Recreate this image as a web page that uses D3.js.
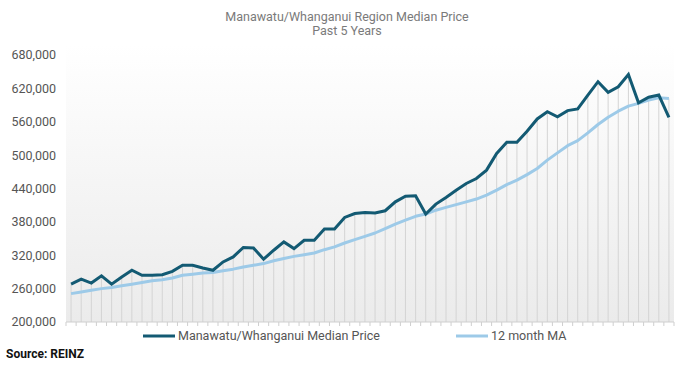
<!DOCTYPE html>
<html lang="en">
<head>
<meta charset="UTF-8">
<title>Manawatu/Whanganui Region Median Price</title>
<script src="https://d3js.org/d3.v7.min.js"></script>
<style>
    body { margin: 0; background: #fff; }
    text { font-family: 'Roboto', sans-serif; }
</style>
</head>
<body>
<div id="container"></div>
<script>
// monthly median price, last 5 years (60 months)
const medianPrice = [268000, 277000, 270000, 283000, 268000, 281000, 293000, 284000, 284000, 285000,
    291000, 302000, 302000, 297000, 293000, 308000, 317000, 334000, 333000, 313000,
    329000, 344000, 332000, 347000, 347000, 367000, 367000, 388000, 395000, 397000,
    396000, 400000, 416000, 426000, 427000, 394000, 412000, 424000, 437000, 449000,
    458000, 473000, 503000, 523000, 523000, 543000, 565000, 578000, 569000, 580000,
    583000, 608000, 632000, 613000, 623000, 645000, 594000, 604000, 608000, 568000];
// 12 month moving average
const movingAvg = [251000, 254000, 257000, 260000, 262000, 265000, 268000, 271000, 274000, 276000,
    279000, 284000, 286000, 288000, 289000, 292000, 295000, 299000, 302000, 305000,
    310000, 314000, 318000, 321000, 324000, 330000, 335000, 342000, 348000, 354000,
    360000, 368000, 376000, 383000, 390000, 394000, 401000, 406000, 411000, 416000,
    421000, 428000, 437000, 447000, 455000, 465000, 476000, 491000, 504000, 517000,
    526000, 540000, 555000, 568000, 579000, 588000, 593000, 599000, 603000, 602000];
const yTicks = [200000, 260000, 320000, 380000, 440000, 500000, 560000, 620000, 680000];
const seriesNames = ['Manawatu/Whanganui Median Price', '12 month MA'];
const seriesColors = ['#135a73', '#9dcae8'];

const W = 689, H = 370;
const margin = {top: 55, right: 15, bottom: 48, left: 66};

const svg = d3.select('#container').append('svg')
    .attr('width', W).attr('height', H);

// title
svg.append('text').attr('x', 347).attr('y', 21).attr('text-anchor', 'middle')
    .attr('font-size', 12.5).attr('fill', '#7a7a7a')
    .text('Manawatu/Whanganui Region Median Price');
svg.append('text').attr('x', 347).attr('y', 35).attr('text-anchor', 'middle')
    .attr('font-size', 12.5).attr('fill', '#7a7a7a')
    .text('Past 5 Years');

const idx = d3.range(medianPrice.length);
const x = d3.scaleBand().domain(idx).range([margin.left, W - margin.right]);
const y = d3.scaleLinear().domain([200000, 680000]).range([H - margin.bottom, margin.top]);
const cx = i => x(i) + x.bandwidth() / 2;

// background gradient
const grad = svg.append('defs').append('linearGradient').attr('id', 'bg')
    .attr('x1', 0).attr('y1', 0).attr('x2', 0).attr('y2', 1);
grad.append('stop').attr('offset', '0%').attr('stop-color', '#ffffff');
grad.append('stop').attr('offset', '100%').attr('stop-color', '#ebebeb');
svg.append('rect').attr('x', margin.left).attr('y', margin.top - 10)
    .attr('width', W - margin.right - margin.left)
    .attr('height', y(200000) - margin.top + 10)
    .attr('fill', 'url(#bg)');

// drop lines
svg.append('g').selectAll('line').data(idx).join('line')
    .attr('x1', cx).attr('x2', cx)
    .attr('y1', y(200000))
    .attr('y2', i => y(Math.max(medianPrice[i], movingAvg[i])))
    .attr('stroke', '#d4d4d4').attr('stroke-width', 1);

// y axis labels
svg.append('g').selectAll('text').data(yTicks).join('text')
    .attr('x', 56).attr('y', d => y(d)).attr('dy', '0.35em')
    .attr('text-anchor', 'end').attr('font-size', 12.5).attr('fill', '#555')
    .text(d => d3.format(',')(d));

// x axis
const xAxis = svg.append('g').attr('transform', `translate(0,${y(200000)})`);
xAxis.append('line').attr('x1', margin.left).attr('x2', W - margin.right)
    .attr('stroke', '#cfcfcf');
xAxis.selectAll('.tick').data(d3.range(medianPrice.length + 1)).join('line')
    .attr('class', 'tick')
    .attr('x1', i => margin.left + i * x.step()).attr('x2', i => margin.left + i * x.step())
    .attr('y1', 0).attr('y2', 4).attr('stroke', '#cfcfcf');

// lines
const line = d3.line().x((d, i) => cx(i)).y(d => y(d));
svg.append('path').datum(movingAvg).attr('d', line)
    .attr('fill', 'none').attr('stroke', seriesColors[1]).attr('stroke-width', 3)
    .attr('stroke-linejoin', 'round');
svg.append('path').datum(medianPrice).attr('d', line)
    .attr('fill', 'none').attr('stroke', seriesColors[0]).attr('stroke-width', 3)
    .attr('stroke-linejoin', 'miter');

// legend
const legendX = [143, 456];
seriesNames.forEach((name, k) => {
    const g = svg.append('g').attr('transform', `translate(${legendX[k]},336)`);
    g.append('line').attr('x1', 0).attr('x2', 32).attr('stroke', seriesColors[k]).attr('stroke-width', 3);
    g.append('text').attr('x', 35).attr('dy', '0.35em').attr('font-size', 12.5).attr('fill', '#555')
        .text(name);
});

// source
svg.append('text').attr('x', 6).attr('y', 358).attr('font-size', 12)
    .attr('font-weight', 'bold').attr('fill', '#111').text('Source: REINZ');
</script>
</body>
</html>
